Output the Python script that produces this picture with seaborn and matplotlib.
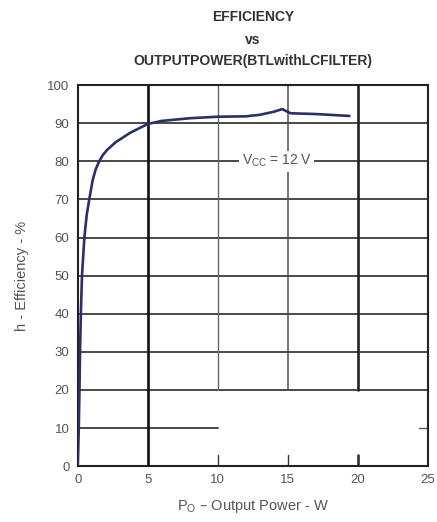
import matplotlib
matplotlib.use("Agg")
import matplotlib.pyplot as plt
import seaborn as sns
import pandas as pd

# Efficiency curve, BTL with LC filter, VCC = 12 V
power_w = [0, 0.07, 0.12, 0.16, 0.22, 0.3, 0.47, 0.64, 0.82, 1.06, 1.27, 1.53, 1.8, 2.1,
           2.7, 3.75, 5.0, 6.0, 8.0, 10.0, 12.0, 13.0, 14.0, 14.6, 15.2, 17.0, 19.4]
efficiency_pct = [0, 10, 20, 30, 40, 50, 60, 66, 70, 75, 77.8, 80, 81.7, 83,
                  85, 87.5, 89.8, 90.6, 91.3, 91.7, 91.8, 92.2, 93.0, 93.7, 92.6, 92.4, 91.9]
x_ticks = [0, 5, 10, 15, 20, 25]
y_ticks = [0, 10, 20, 30, 40, 50, 60, 70, 80, 90, 100]

df = pd.DataFrame({"power": power_w, "eff": efficiency_pct})

sns.set_theme(style="white")
plt.rcParams["font.family"] = ["Liberation Sans", "DejaVu Sans"]

fig = plt.figure(figsize=(4.37, 5.22), dpi=100)
ax = fig.add_axes([0.178, 0.107, 0.801, 0.730])

grid_col = "#3a3a3a"
# horizontal grid
for y in y_ticks[2:-1]:
    ax.axhline(y, color=grid_col, lw=1.3, zorder=1)
ax.axhline(10, xmin=0, xmax=0.4, color=grid_col, lw=1.3, zorder=1)
# vertical grid
ax.axvline(5, color="#111111", lw=1.9, zorder=1)
ax.axvline(10, ymin=0.2, color="#6a6a6a", lw=1.0, zorder=1)
ax.axvline(15, ymin=0.2, color="#505050", lw=1.1, zorder=1)
ax.axvline(20, ymin=0.2, color="#222222", lw=1.9, zorder=1)
for x, lw in [(10, 1.0), (15, 1.0), (20, 1.9)]:
    ax.axvline(x, ymin=0, ymax=0.03, color="#333333", lw=lw, zorder=1)
ax.axhline(10, xmin=0.975, xmax=1.0, color="#555555", lw=1.0, zorder=1)

sns.lineplot(data=df, x="power", y="eff", ax=ax, color="#2b2f6b", lw=1.9,
             zorder=3, estimator=None, sort=False)

ax.text(14.2, 80, r"V$_{\mathregular{CC}}$ = 12 V", ha="center", va="center",
        fontsize=10, color="#555555",
        bbox=dict(facecolor="white", edgecolor="none", pad=1.5), zorder=2)

ax.set_xlim(0, 25)
ax.set_ylim(0, 100)
ax.set_xticks(x_ticks)
ax.set_yticks(y_ticks)
ax.tick_params(axis="both", labelsize=9.5, labelcolor="#555555", length=0, pad=6)
for s in ax.spines.values():
    s.set_color("#222222")
    s.set_linewidth(1.5)

ax.set_xlabel(r"P$_{\mathregular{O}}$ – Output Power - W", fontsize=10.5,
              color="#555555", labelpad=8)
ax.set_ylabel("h - Efficiency - %", fontsize=10.5, color="#555555", labelpad=13)

fig.text(0.579, 0.967, "EFFICIENCY", ha="center", va="center", fontsize=10,
         fontweight="bold", color="#333333")
fig.text(0.579, 0.923, "vs", ha="center", va="center", fontsize=10,
         fontweight="bold", color="#333333")
fig.text(0.579, 0.884, "OUTPUTPOWER(BTLwithLCFILTER)", ha="center", va="center",
         fontsize=10, fontweight="bold", color="#333333")

fig.savefig("out.png", dpi=100, facecolor="white")
